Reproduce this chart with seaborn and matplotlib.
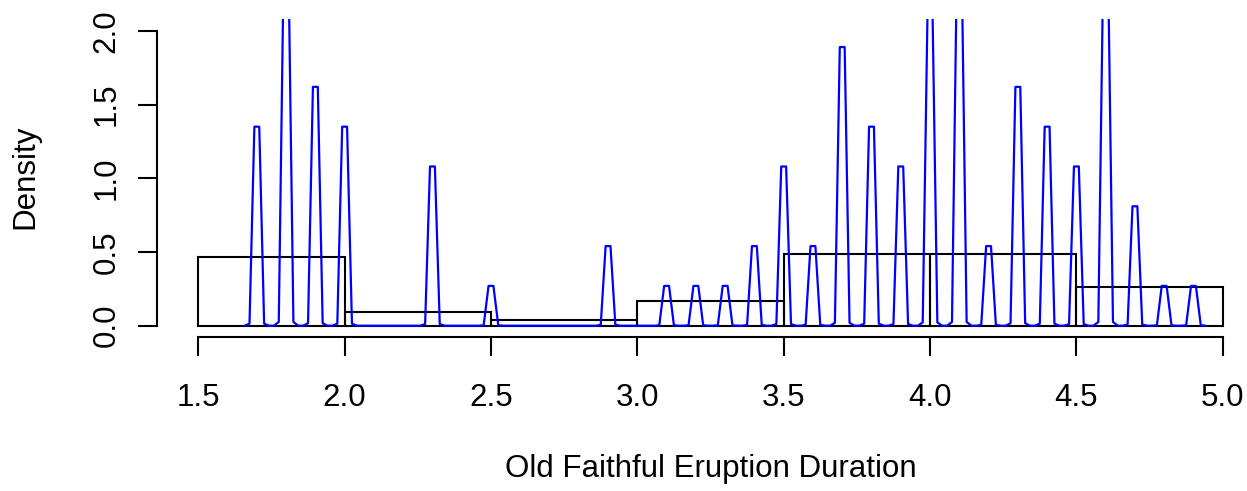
import numpy as np
import matplotlib
matplotlib.use("Agg")
import matplotlib.pyplot as plt
import seaborn as sns

# eruption durations (rounded to 0.1 min) and how many times each occurs
durations = [1.7, 1.8, 1.9, 2.0, 2.3, 2.5, 2.9, 3.1, 3.2, 3.3, 3.4, 3.5, 3.6,
             3.7, 3.8, 3.9, 4.0, 4.1, 4.2, 4.3, 4.4, 4.5, 4.6, 4.7, 4.8, 4.9]
counts = [5, 9, 6, 5, 4, 1, 2, 1, 1, 1, 2, 4, 2,
          7, 5, 4, 8, 9, 2, 6, 5, 4, 9, 3, 1, 1]
x_ticks = [1.5, 2.0, 2.5, 3.0, 3.5, 4.0, 4.5, 5.0]
y_ticks = [0.0, 0.5, 1.0, 1.5, 2.0]

eruptions = np.repeat(durations, counts)

sns.set_style("white")
plt.rcParams['font.family'] = ['Liberation Sans', 'DejaVu Sans']
FS = 22.5
LW = 1.5

fig = plt.figure(figsize=(12.47, 4.91), dpi=100)
ax = fig.add_axes([0.12614, 0.31263, 0.88726, 0.64827])

# histogram, right-closed bins like R's hist()
edges = np.arange(1.5, 5.01, 0.5) + 1e-6
sns.histplot(x=eruptions, bins=edges, stat="density", fill=False,
             color="black", linewidth=LW, ax=ax)

# very narrow gaussian density, evaluated on a coarse grid
step = 0.1 / 6
bw = 0.0078
grid = np.arange(min(durations) - 2.5 * step, max(durations) + 2.6 * step, step)
d = np.array(durations)
c = np.array(counts)
z = (grid[:, None] - d[None, :]) / bw
dens = (np.exp(-0.5 * z ** 2) * c).sum(axis=1) / (c.sum() * bw * np.sqrt(2 * np.pi))
sns.lineplot(x=grid, y=dens, color="blue", linewidth=1.6, ax=ax)

ax.set_xlim(1.36, 5.14)
ax.set_ylim(-0.08, 2.08)
ax.set_xlabel("")
ax.set_ylabel("")

sns.despine(ax=ax)
ax.spines['left'].set_bounds(0, 2)
ax.spines['bottom'].set_bounds(1.5, 5.0)
for s in ['left', 'bottom']:
    ax.spines[s].set_linewidth(LW)
    ax.spines[s].set_color("black")

ax.set_xticks(x_ticks)
ax.set_xticklabels([f"{t:.1f}" for t in x_ticks])
ax.set_yticks(y_ticks)
ax.set_yticklabels([f"{t:.1f}" for t in y_ticks], rotation=90, va="center")
ax.tick_params(axis='x', direction='out', length=13.7, width=LW, pad=19.4,
               labelsize=FS, colors="black", bottom=True)
ax.tick_params(axis='y', direction='out', length=13.7, width=LW, pad=11.9,
               labelsize=FS, colors="black", left=True)

fig.text(710.5 / 1247, 14 / 491, "Old Faithful Eruption Duration",
         ha="center", va="baseline", fontsize=FS, color="black")
fig.text(33.5 / 1247, (491 - 176.5) / 491, "Density", rotation=90,
         rotation_mode="anchor", ha="center", va="baseline", fontsize=FS,
         color="black")

fig.savefig("out.png", dpi=100)
